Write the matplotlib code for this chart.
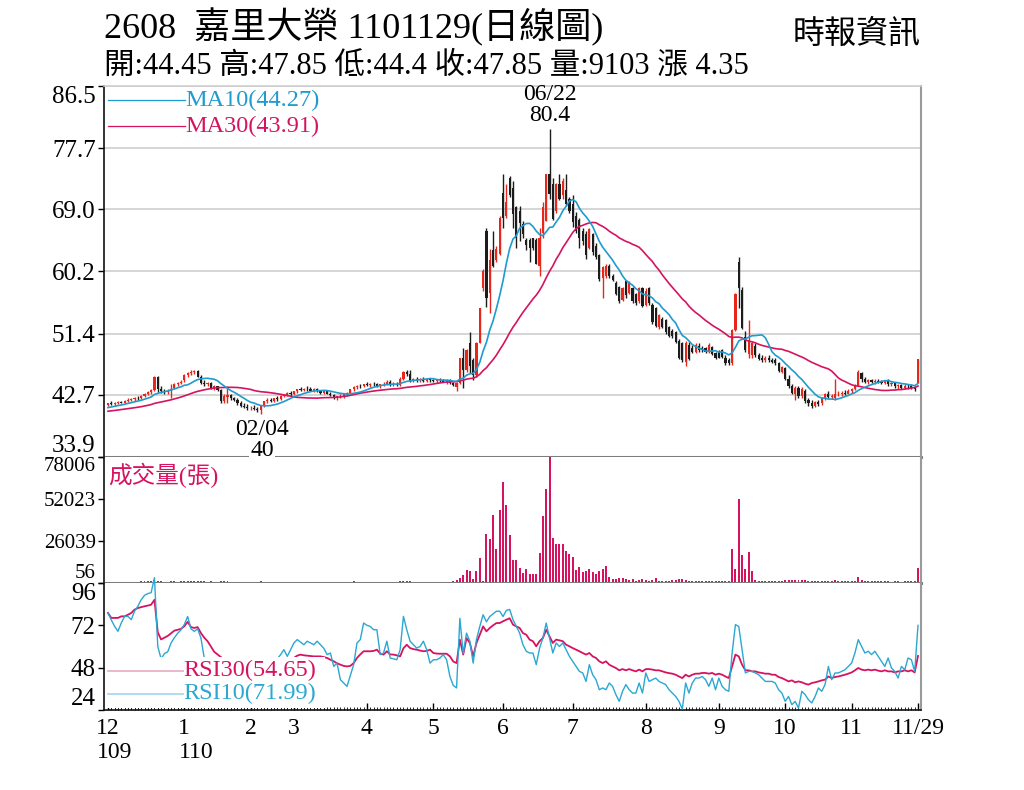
import numpy as np
import pandas as pd
import matplotlib
matplotlib.use("Agg")
import matplotlib.pyplot as plt
from matplotlib.lines import Line2D
from matplotlib.patches import Rectangle

plt.rcParams['font.family'] = ['Liberation Serif', 'Noto Sans CJK TC']

# daily bars 2020/12/01 .. 2021/11/29, one row per month (Dec..Nov)
opens = [
    41.3,41.5,41.4,41.6,41.7,41.6,41.9,42.0,42.1,42.3,42.2,42.6,42.9,43.1,43.4,45.2,43.5,43.3,43.1,43.2,43.7,44.2,44.4,
    44.8,45.5,45.8,45.9,46.1,45.3,44.4,44.2,44.4,43.7,43.9,43.4,41.8,42.4,42.7,42.2,42.0,41.5,41.2,41.0,
    40.8,40.9,40.7,40.6,41.1,41.8,42.0,41.8,42.2,42.1,42.6,42.7,43.0,
    42.8,43.2,43.5,43.4,43.6,43.5,43.3,43.6,43.2,43.0,43.2,42.9,42.7,42.3,42.5,42.6,42.8,43.0,43.5,43.8,44.0,43.9,
    44.2,44.1,44.3,44.2,44.0,44.2,44.3,44.6,44.2,44.3,44.1,45.0,45.9,45.6,44.7,44.9,44.8,45.0,44.7,44.9,
    44.8,44.7,44.9,44.8,44.6,44.7,44.4,43.8,44.4,47.9,46.3,50.0,47.6,45.5,50.0,57.8,66.0,57.1,63.2,61.8,62.7,
    71.4,68.1,73.5,72.0,69.3,68.8,67.0,64.6,64.6,65.0,64.6,61.0,65.6,67.4,74.0,72.6,68.8,72.6,71.0,71.7,70.5,
    69.8,68.0,67.5,66.0,65.5,63.6,65.5,63.8,62.5,59.3,59.5,61.0,59.5,58.6,58.0,56.1,58.9,57.2,57.8,57.0,56.0,57.9,
    55.5,57.8,55.5,55.0,52.3,53.5,53.3,52.3,51.8,51.6,50.4,50.0,47.3,49.8,49.4,48.8,49.7,49.3,49.3,48.8,49.5,48.6,
    48.8,49.0,48.0,47.6,47.2,51.9,61.5,57.6,50.9,48.5,48.3,49.7,48.3,47.9,47.6,48.0,47.7,47.6,47.2,46.0,
    46.5,45.0,44.0,42.8,43.7,42.6,43.3,42.0,41.6,41.2,41.7,41.5,42.2,42.8,42.4,42.3,42.8,42.9,43.0,42.9,
    43.3,43.5,44.0,45.8,44.9,44.6,44.8,44.5,44.7,44.6,44.4,44.7,44.2,44.4,43.9,44.1,43.7,44.0,43.9,43.7,44.45,
]
highs = [
    41.6,41.8,41.7,41.9,41.9,42.0,42.2,42.3,42.4,42.5,42.7,43.0,43.3,43.5,45.4,45.4,43.9,43.6,43.6,44.2,44.4,44.6,44.8,
    45.7,46.0,46.2,46.3,46.3,45.5,44.8,44.6,44.5,44.1,44.0,43.5,42.8,44.0,42.9,42.4,42.2,41.8,41.6,41.4,
    41.2,41.3,41.0,41.3,41.9,42.2,42.2,42.3,42.5,42.7,42.9,43.1,43.2,
    43.3,43.6,43.8,43.7,43.9,43.8,43.7,43.7,43.4,43.3,43.4,43.1,42.9,42.6,42.8,42.9,43.1,43.6,43.9,44.1,44.2,44.3,
    44.5,44.4,44.6,44.4,44.3,44.5,44.8,44.8,44.5,44.6,45.2,46.1,46.2,46.3,45.1,45.2,45.1,45.2,45.0,45.1,
    45.0,45.0,45.1,45.0,44.9,44.9,44.6,44.6,48.0,49.3,49.2,51.6,48.0,50.2,55.0,60.5,66.3,63.4,66.0,63.8,68.0,
    74.0,72.6,73.8,73.1,69.5,69.5,67.4,65.0,65.0,65.0,64.9,66.4,70.0,74.0,80.4,73.5,72.8,74.0,73.5,74.0,70.7,
    71.0,68.6,67.8,66.4,66.0,66.4,65.7,64.2,62.7,61.0,61.2,61.3,59.8,58.8,58.2,58.0,59.0,58.8,58.0,57.2,58.0,58.0,
    57.8,58.0,55.7,55.2,54.2,53.8,53.5,52.5,52.0,51.8,50.6,50.2,50.4,50.2,49.8,50.0,50.0,49.6,49.5,50.0,49.7,48.8,
    49.0,49.2,48.3,48.0,52.0,57.1,62.3,58.0,51.8,53.3,50.2,50.0,48.6,48.3,48.2,48.3,48.0,47.9,47.3,46.8,
    46.6,45.5,44.3,44.0,43.9,43.8,43.5,42.3,42.0,41.9,42.0,42.4,43.0,43.3,42.8,45.0,43.2,43.3,43.4,43.5,
    43.7,44.2,46.3,46.0,45.2,45.0,45.0,44.9,45.0,44.8,44.8,44.9,44.6,44.5,44.3,44.3,44.2,44.3,44.2,43.9,47.85,
]
lows = [
    41.1,41.3,41.2,41.4,41.5,41.5,41.7,41.8,41.9,42.0,42.1,42.4,42.7,42.9,43.3,43.1,43.0,42.9,42.8,42.2,43.5,44.0,44.2,
    44.6,45.3,45.5,45.6,45.2,44.2,44.0,43.9,43.6,43.4,43.2,41.6,41.6,41.5,42.0,41.8,41.3,41.0,40.8,40.6,
    40.5,40.6,40.3,40.0,41.0,41.6,41.7,41.7,41.9,42.0,42.4,42.5,42.6,
    42.7,43.0,43.2,43.2,43.3,43.2,43.1,43.1,42.9,42.8,42.8,42.6,42.1,42.0,42.3,42.3,42.6,42.9,43.3,43.6,43.7,43.8,
    43.9,43.8,44.0,43.8,43.7,44.0,44.1,44.0,43.9,44.0,44.0,44.8,45.4,44.5,44.5,44.6,44.5,44.6,44.5,44.6,
    44.5,44.4,44.6,44.5,44.3,44.2,43.9,43.3,44.2,43.7,46.0,45.8,44.8,45.2,50.0,57.5,55.1,54.3,60.8,61.5,62.5,
    66.4,67.8,70.7,66.4,63.5,64.5,65.0,63.2,61.5,63.2,61.2,59.6,65.0,67.4,70.5,67.5,68.5,70.3,70.5,69.5,68.5,
    66.5,65.6,63.5,64.0,62.0,63.4,62.5,62.0,58.9,56.4,59.3,59.3,58.9,56.8,55.7,56.0,56.5,57.0,55.8,55.5,55.8,55.1,
    55.3,55.5,52.8,52.3,52.0,52.2,51.4,50.9,50.8,50.0,47.8,47.4,46.8,47.6,48.6,48.6,48.8,48.8,48.6,48.6,48.3,47.8,
    47.9,47.9,47.0,46.9,47.0,51.8,55.0,52.0,48.8,48.0,48.0,48.1,47.6,47.4,47.3,47.4,47.2,47.0,45.9,45.8,
    44.8,43.7,42.8,42.0,42.3,42.2,41.6,41.2,40.9,41.0,41.1,41.3,42.0,42.2,42.1,42.0,42.5,42.6,42.7,42.8,
    43.0,43.4,43.9,44.6,44.4,44.3,44.4,44.3,44.4,44.2,44.3,44.0,43.9,43.7,43.6,43.5,43.5,43.6,43.5,43.3,44.4,
]
closes = [
    41.5,41.4,41.6,41.7,41.6,41.9,42.0,42.1,42.3,42.2,42.6,42.9,43.1,43.4,45.2,43.5,43.3,43.1,43.3,43.6,44.2,44.4,44.6,
    45.5,45.8,45.9,46.1,45.3,44.4,44.2,44.4,43.7,43.9,43.4,41.8,42.5,42.7,42.2,42.0,41.5,41.2,41.0,40.8,
    40.9,40.7,40.6,41.1,41.8,42.0,41.8,42.2,42.1,42.6,42.7,43.0,42.8,
    43.2,43.5,43.4,43.6,43.5,43.3,43.6,43.2,43.0,43.2,42.9,42.7,42.3,42.5,42.6,42.8,43.0,43.5,43.8,44.0,43.9,44.2,
    44.1,44.3,44.2,44.0,44.2,44.3,44.6,44.2,44.3,44.1,45.0,45.9,45.6,44.7,44.9,44.8,45.0,44.7,44.9,44.8,
    44.7,44.9,44.8,44.6,44.7,44.4,44.1,44.4,47.9,46.2,49.0,46.8,45.5,50.0,55.0,60.3,56.5,61.8,61.0,63.4,67.8,
    67.8,70.0,71.0,68.4,65.0,67.1,65.5,64.0,63.6,63.5,61.3,65.0,69.3,74.0,71.2,67.7,72.6,70.5,73.0,69.8,68.8,
    67.2,66.0,64.9,64.5,62.5,66.2,63.0,62.3,59.2,60.8,61.0,59.6,59.0,57.0,56.0,57.9,56.8,58.6,56.0,55.8,57.8,55.3,
    57.5,55.8,53.0,52.5,54.0,52.4,51.6,51.0,51.0,50.2,48.0,47.6,50.0,47.8,48.8,49.8,49.0,49.2,48.8,49.8,48.5,48.0,
    48.0,48.1,47.2,47.2,51.9,57.0,57.8,52.2,49.0,50.5,50.0,48.3,47.8,47.6,48.0,47.6,47.4,47.2,46.1,46.6,
    45.0,44.0,43.0,43.7,42.5,43.5,41.9,41.5,41.2,41.7,41.4,42.2,42.8,42.4,42.6,42.8,42.9,43.0,42.9,43.3,
    43.5,44.0,46.0,44.9,44.6,44.8,44.5,44.7,44.6,44.4,44.7,44.2,44.4,43.9,44.1,43.7,44.0,43.9,43.7,43.5,47.85,
]
# closes of Nov 2020 (before the window), estimated from where MA10 / MA30 start
pre_closes = [39.9,40.0,39.8,39.9,40.1,40.2,40.0,39.9,40.1,40.3,40.2,40.0,40.1,40.3,40.4,
              40.2,40.3,40.4,40.3,40.4,40.5,40.6,40.7,40.8,40.8,40.9,41.0,41.1,41.1]

volumes = [
    700,650,800,750,600,900,850,700,950,800,1000,1100,1200,1300,1800,1600,1100,900,800,1200,1000,900,1000,
    1300,1200,1100,1400,1300,1200,1000,900,1000,800,900,1500,1100,1300,900,800,900,800,700,900,
    800,700,900,1000,900,800,700,800,700,800,900,700,800,
    900,800,700,800,700,650,700,600,700,650,600,700,900,800,700,650,700,900,1000,900,800,900,
    900,800,700,800,700,750,900,800,700,650,1300,1500,1200,1400,900,800,700,800,700,750,
    800,700,900,800,700,900,1300,2060,3300,4740,7840,7420,2680,7420,15670,1500,30520,27420,42270,21240,44950,
    62480,48040,29490,14020,14020,9490,6190,8870,5770,5360,5360,18560,41240,58350,77950,27840,24330,24330,24330,19800,17730,
    16080,7840,9900,6800,7420,8660,6600,5770,7420,8870,10310,3710,2680,2680,2890,3090,2500,1900,2300,1600,2100,2500,
    1800,1500,1900,3300,1600,1400,1600,1500,1700,1800,2300,2700,2000,1500,1200,1300,1100,1000,1100,1000,1200,1300,
    1100,1000,1400,1300,20800,9000,52200,17100,8900,19200,7400,2000,1500,1300,1200,1100,1300,1200,1600,1400,
    1800,2000,2200,1900,1700,2100,1900,1600,1500,1400,1300,1500,1600,1400,1300,2200,1200,1100,1200,1000,
    1100,1300,3700,2000,1400,1200,1300,1100,1000,1200,1100,1000,900,1000,1100,900,1000,1200,1100,1000,9103,
]
rsi10 = [
    79,75,71.4,68.6,73.3,77.1,77.1,75.2,80,82.8,86.5,89,90,90.5,99,60,53,56,57,62,65,67.5,69.5,
    72.5,77,70,68.6,70,64.8,53.5,50,47,44,42,35,40,42,40,41,38,36,34,32,
    30,29,28,38,45,50,48,52,53,55.4,58.2,54.4,58.2,
    62,63.9,62.5,61,63,62,61,63,61,59,55.4,56.3,48.7,50.6,41.2,39.3,37.4,43.5,49.7,62,63.9,73.3,
    72,71.4,69.5,69.5,55.4,56.3,63,53.5,53,52.5,58.2,77.1,69.5,63,61,59.1,60,63,58.2,50.6,
    52.5,52.5,53.5,55.4,52.5,43,38,36.5,76,56,67.6,63,50.6,64,71.4,78,74,77,78.5,80,80,
    77,80.5,81,75.2,71.4,67.6,61,57.3,56.3,56.3,49.7,59,64.8,73.3,64.8,56.3,62,60,62,58.2,54.4,
    51.6,48.7,45.9,45,40.2,49.7,44,41.2,35.5,36.5,35.5,39.3,37.4,32.7,28.9,34.6,38.4,35.5,33.6,33.6,39.3,33.6,
    45,40.2,41.2,42.1,40.2,39.3,38.4,35.5,33.6,31.7,28.9,24.5,39.3,33.6,39.3,42.1,42.1,43,41.2,37.4,42.1,35.5,
    42.1,37.4,35.5,34.6,56.3,72.4,71.4,58.2,45,45.9,45.9,45,44,42.1,40.2,40.2,40.2,39.3,35.5,33.6,
    28.9,31.7,27,28.9,25.1,34.6,32.7,29.8,28,31.7,36.5,34.6,38.4,48.7,41.2,45,45,45.9,46.8,48.7,
    50.6,56.3,63.9,60.1,56.3,57.3,55.4,57.3,54.4,51.6,48.7,53.5,47.8,45.9,42.1,48.7,46.8,53.5,52.5,45.9,71.99,
]
rsi30 = [
    79,76.2,76.2,76.2,77.1,77.1,78,79,80.9,81.8,82.3,82.8,83.2,83.7,86.5,68,64,65,66,67.5,69,69.5,70,
    71.5,74,71,70.5,71,67.6,65,63,60,57,55.5,54,52.5,52,51.5,51,50.5,50,49,48.5,
    48,47.5,47,48,49,50,50,51,51,52,52.5,52.5,53,
    53.5,54.8,55.4,55,54.8,54.6,54.4,54.4,54.4,54,53.5,52.5,51.6,50.5,49.7,49,48.7,49,50.6,53.5,55.5,57.3,
    57.3,57.3,57.5,58.2,56,55.4,57.3,55.5,55.4,55,54.4,59,61,59.1,58.5,58.2,57.7,57.3,57.5,58.2,
    56.3,56,55.9,55.9,55.9,54.4,51.5,50.6,63.9,55.4,64.8,62,54.4,62,66.7,71.4,68.6,70.5,72,73.3,73.3,
    74.3,75.2,76,72.4,71.4,70.5,67.6,66.7,63.9,63,60.1,63,64.8,69.5,65.8,62,63.9,63.5,63,61,60.1,
    59.1,58.2,57.3,56.3,55.4,56.3,54.4,53.5,51.6,50.6,51.6,49.7,48.7,47.8,46.5,47.2,46.5,47.2,46.5,45.9,46.9,45.9,
    47.2,47.2,46.9,46.5,46.5,45.9,45.3,44.9,44.6,44,43,42.1,44,43,44,44.6,44.6,45,45,44.6,45,44,
    44.6,44,43,42.1,48.7,55.4,54.4,49.7,46.5,46.5,45.9,45.9,45.3,45,44.6,44.6,44,44,42.7,42.1,
    41.2,40.2,40.8,39.7,40.2,39.7,38.9,38.4,39.3,39.7,40.2,40.8,41.2,43,42.1,42.7,43,43.5,44,44.6,
    45.3,46.5,47.8,46.9,46.5,46.9,46.5,46.9,46.3,45.9,46.5,45.9,45.9,45.3,45.9,45.9,46.5,45.9,46.5,45.3,54.65,
]

month_starts = [0, 23, 43, 56, 78, 98, 119, 140, 162, 184, 204, 224, 244]
month_labels = ["12", "1", "2", "3", "4", "5", "6", "7", "8", "9", "10", "11", "11/29"]
price_ticks = [33.9, 42.7, 51.4, 60.2, 69.0, 77.7, 86.5]
vol_ticks = [56, 26039, 52023, 78006]
rsi_ticks = [24, 48, 72, 96]

for arr in (opens, highs, lows, volumes, rsi10, rsi30):
    assert len(arr) == len(closes), (len(arr), len(closes))

UP = "#e8261c"
DOWN = "#1c1c1c"
C10 = "#1f9bcf"
C30 = "#d6135f"

days = np.arange(len(closes))
o = np.array(opens); h = np.array(highs); l = np.array(lows); c = np.array(closes)
allc = pd.Series(pre_closes + closes)
ma10 = allc.rolling(10).mean().values[len(pre_closes):]
ma30 = allc.rolling(30).mean().values[len(pre_closes):]

W, H = 1024, 790
fig = plt.figure(figsize=(W / 100, H / 100), dpi=100)
fig.patch.set_facecolor("white")

def fx(px):
    return px / W

def fy(py):
    return 1 - py / H

ax_p = fig.add_axes([fx(104), fy(457), 817 / W, 371 / H])
ax_v = fig.add_axes([fx(104), fy(583), 817 / W, 126 / H])
ax_r = fig.add_axes([fx(104), fy(710), 817 / W, 127 / H])

xlim = (-1.2, 244.9)

# price panel
cols = np.where(c >= o, UP, DOWN)
ax_p.vlines(days, l, h, colors=cols, lw=1.0, zorder=2)
body = np.maximum(np.abs(c - o), 0.08)
ax_p.bar(days, body, bottom=np.minimum(o, c), width=0.65, color=cols, zorder=2)
ax_p.plot(days, ma30, color=C30, lw=1.2, zorder=3)
ax_p.plot(days, ma10, color=C10, lw=1.2, zorder=3)
ax_p.set_xlim(*xlim)
ax_p.set_ylim(33.9, 86.5)
ax_p.set_yticks(price_ticks)
ax_p.set_yticklabels([f"{v:.1f}" for v in price_ticks])
ax_p.yaxis.grid(True, color="#d2d2d2", lw=1.3)
ax_p.set_axisbelow(True)
ax_p.set_xticks([])

# volume panel
ax_v.bar(days, volumes, width=0.6, color=C30, lw=0)
ax_v.set_xlim(*xlim)
ax_v.set_ylim(56, 78006)
ax_v.set_yticks(vol_ticks)
ax_v.set_yticklabels([str(v) for v in vol_ticks])
ax_v.set_xticks([])

# rsi panel
ax_r.plot(days, rsi30, color=C30, lw=1.3, zorder=3)
ax_r.plot(days, rsi10, color="#2aa7d3", lw=1.0, zorder=3, clip_on=False)
ax_r.set_xlim(*xlim)
ax_r.set_ylim(24, 96)
ax_r.set_yticks(rsi_ticks)
ax_r.set_yticklabels([str(v) for v in rsi_ticks])
ax_r.set_xticks(month_starts)
ax_r.set_xticklabels(month_labels)
ax_r.set_xticks(days, minor=True)
ax_r.tick_params(axis="x", which="major", length=5, width=1.0, direction="in", labelsize=17, pad=6)
ax_r.tick_params(axis="x", which="minor", length=2.5, width=0.6, direction="in")

for ax, fs in ((ax_p, 18), (ax_v, 15), (ax_r, 18)):
    ax.set_facecolor("white")
    ax.tick_params(axis="y", length=4, width=1.0, direction="out", labelsize=fs, pad=2)
    labs = ax.get_yticklabels()
    labs[0].set_va("bottom")
    labs[-1].set_va("top")
    for s in ax.spines.values():
        s.set_linewidth(1.2)
    ax.spines["left"].set_color("#111111")
    ax.spines["right"].set_color("#9a9a9a")
    ax.spines["right"].set_linewidth(1.5)

ax_p.spines["top"].set_color("#cfcfcf")
ax_p.spines["bottom"].set_color("#7d7d7d")
ax_p.spines["bottom"].set_linewidth(2.2)
ax_v.spines["top"].set_visible(False)
ax_v.spines["bottom"].set_color("#7d7d7d")
ax_v.spines["bottom"].set_linewidth(2.2)
ax_r.spines["top"].set_visible(False)
ax_r.spines["bottom"].set_color("#111111")

# high / low marks
ax_p.annotate("06/22", xy=(133, 80.4), xytext=(0, 25), textcoords="offset points",
              ha="center", va="center", fontsize=17, annotation_clip=False)
ax_p.annotate("80.4", xy=(133, 80.4), xytext=(0, 9.5), textcoords="offset points",
              ha="center", va="center", fontsize=17, annotation_clip=False)
ax_p.annotate("02/04", xy=(46, 40.0), xytext=(1, -11), textcoords="offset points",
              ha="center", va="center", fontsize=17, annotation_clip=False)
ax_p.annotate("40", xy=(46, 40.0), xytext=(1, -26), textcoords="offset points",
              ha="center", va="center", fontsize=17, annotation_clip=False, zorder=10,
              bbox=dict(boxstyle="square,pad=0.05", fc="white", ec="none"))

# MA legend
fig.add_artist(Line2D([fx(108), fx(185)], [fy(100), fy(100)], color=C10, lw=0.9))
fig.add_artist(Line2D([fx(108), fx(185)], [fy(126), fy(126)], color=C30, lw=0.9))
fig.text(fx(185), fy(100), "MA10(44.27)", color=C10, fontsize=17.5, va="center", ha="left")
fig.text(fx(185), fy(126), "MA30(43.91)", color=C30, fontsize=17.5, va="center", ha="left")

# volume label
fig.text(fx(108), fy(475), "成交量(張)", color=C30, fontsize=17, va="center", ha="left")

# RSI legend with white box over the lines
ax_r.add_patch(Rectangle((0.002, 0.012), 0.268, 0.405, transform=ax_r.transAxes,
                         fc="white", ec="none", zorder=5))
fig.add_artist(Line2D([fx(108), fx(183)], [fy(671), fy(671)], color="#e7b3c7", lw=1.3))
fig.add_artist(Line2D([fx(108), fx(183)], [fy(694), fy(694)], color="#a9d9ec", lw=1.3))
fig.text(fx(183), fy(670), "RSI30(54.65)", color=C30, fontsize=17.5, va="center", ha="left")
fig.text(fx(183), fy(693), "RSI10(71.99)", color="#2aa7d3", fontsize=17.5, va="center", ha="left")

# year labels under the month ticks
fig.text(fx(97), fy(752), "109", fontsize=17, va="center", ha="left")
fig.text(fx(179), fy(752), "110", fontsize=17, va="center", ha="left")

# header
fig.text(fx(104), fy(27), "2608  嘉里大榮 1101129(日線圖)", fontsize=26, va="center", ha="left")
fig.text(fx(104), fy(66), "開:44.45 高:47.85 低:44.4 收:47.85 量:9103 漲 4.35",
         fontsize=22, va="center", ha="left")
fig.text(fx(921), fy(35), "時報資訊", fontsize=23, va="center", ha="right")

fig.savefig("out.png", dpi=100)
